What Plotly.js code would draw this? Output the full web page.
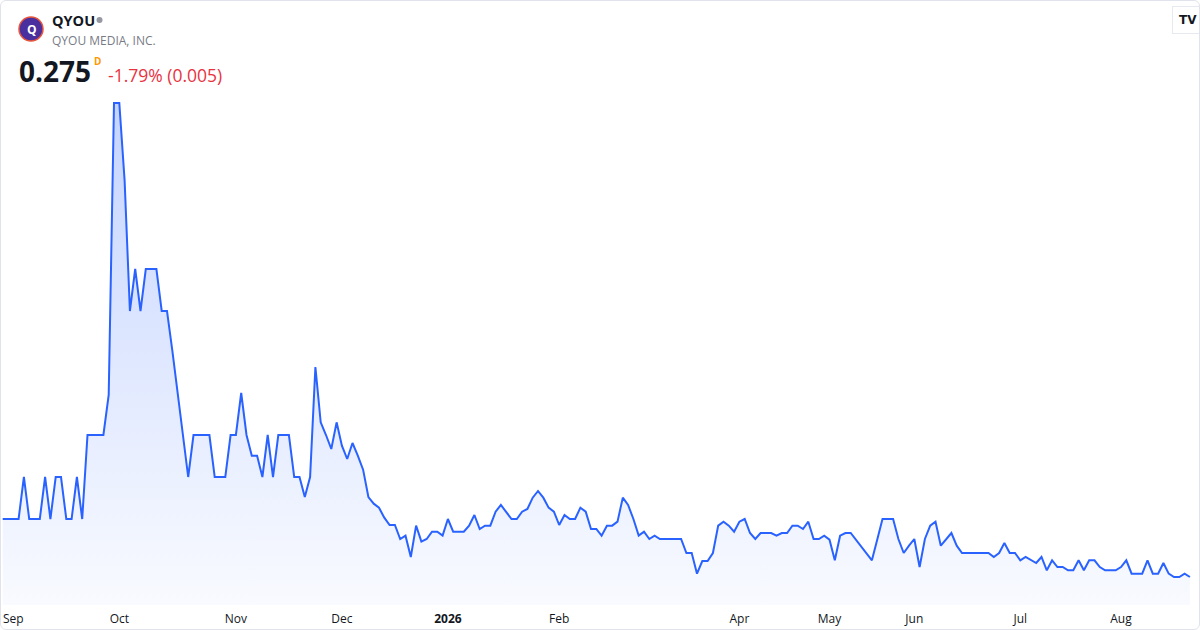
<!DOCTYPE html>
<html>
<head>
<meta charset="utf-8">
<script src="https://cdn.plot.ly/plotly-3.0.1.min.js"></script>
<style>
  html, body { margin: 0; padding: 0; background: #fff; }
  #wrap { position: relative; width: 1200px; height: 630px; }
  #chart { width: 1200px; height: 630px; }
  #frame { position: absolute; left: 0; top: 0; width: 1200px; height: 630px; box-sizing: border-box;
           border: 1px solid #e0e3eb; border-radius: 6px; pointer-events: none; }
</style>
</head>
<body>
<div id="wrap"><div id="chart"></div><div id="frame"></div></div>
<script>
// daily closes, one per trading session (late Aug 2025 -> Aug 2026)
var closes = [
  0.362,0.362,0.362,0.362,0.425,0.362,0.362,0.362,0.425,0.362,0.425,0.425,0.362,0.362,0.425,
  0.362,0.488,0.488,0.488,0.488,0.548,0.986,0.986,0.870,0.674,0.737,0.674,0.737,0.737,0.737,
  0.674,0.674,0.615,0.551,0.487,0.425,0.488,0.488,0.488,0.488,0.425,0.425,0.425,0.488,0.488,
  0.551,0.488,0.457,0.457,0.425,0.488,0.425,0.488,0.488,0.488,0.425,0.425,0.395,0.425,0.590,
  0.507,0.488,0.467,0.507,0.472,0.452,0.476,0.457,0.436,0.395,0.385,0.379,0.364,0.353,0.353,
  0.332,0.337,0.305,0.352,0.328,0.332,0.343,0.343,0.337,0.362,0.343,0.343,0.343,0.352,0.368,
  0.347,0.352,0.352,0.373,0.383,0.373,0.362,0.362,0.373,0.377,0.394,0.404,0.394,0.379,0.373,
  0.353,0.368,0.362,0.362,0.379,0.373,0.347,0.347,0.337,0.352,0.352,0.358,0.394,0.383,0.362,
  0.337,0.343,0.332,0.337,0.332,0.332,0.332,0.332,0.332,0.311,0.311,0.280,0.299,0.299,0.311,
  0.352,0.358,0.352,0.343,0.358,0.362,0.341,0.332,0.341,0.341,0.341,0.337,0.341,0.341,0.352,
  0.352,0.347,0.358,0.332,0.332,0.337,0.331,0.300,0.337,0.341,0.341,0.331,0.320,0.311,0.300,
  0.331,0.362,0.362,0.362,0.332,0.311,0.322,0.332,0.290,0.332,0.352,0.358,0.322,0.332,0.341,
  0.322,0.311,0.311,0.311,0.311,0.311,0.311,0.305,0.311,0.326,0.311,0.311,0.300,0.305,0.300,
  0.296,0.305,0.285,0.300,0.290,0.290,0.285,0.285,0.300,0.285,0.300,0.300,0.290,0.285,0.285,
  0.285,0.290,0.300,0.280,0.280,0.280,0.300,0.280,0.280,0.296,0.280,0.275,0.275,0.280,0.275
];

// first session of each labelled month
var tickIdx = [2, 22, 44, 64, 84, 105, 139, 156, 172, 192, 211];
var tickText = ['Sep', 'Oct', 'Nov', 'Dec', '<b>2026</b>', 'Feb', 'Apr', 'May', 'Jun', 'Jul', 'Aug'];

var symbol = 'QYOU';
var company = 'QYOU MEDIA, INC.';
var lastPrice = '0.275';
var change = '-1.79% (0.005)';

var sessions = closes.map(function (v, i) { return i; });

var W = 1200, H = 630, T = 90, B = 25;
var yLo = 0.233, yHi = 1.0055;
var font = 'Open Sans, Roboto, sans-serif';

// pixel -> paper helpers for the header bits
function px(x) { return x / W; }
function py(y) { return (H - B - y) / (H - T - B); }

function label(x, y, text, size, color, extra) {
  var a = {
    xref: 'paper', yref: 'paper', x: px(x), y: py(y),
    xanchor: 'left', yanchor: 'middle', showarrow: false,
    text: text, font: { family: font, size: size, color: color }
  };
  for (var k in extra) a[k] = extra[k];
  return a;
}

var trace = {
  type: 'scatter',
  mode: 'lines',
  x: sessions,
  y: closes,
  line: { color: '#2962ff', width: 2 },
  fill: 'tozeroy',
  fillgradient: {
    type: 'vertical',
    start: yLo,
    stop: Math.max.apply(null, closes),
    colorscale: [[0, 'rgba(41,98,255,0.03)'], [1, 'rgba(41,98,255,0.27)']]
  },
  hoverinfo: 'skip'
};

var layout = {
  width: W, height: H,
  margin: { l: 0, r: 0, t: T, b: B },
  paper_bgcolor: '#ffffff',
  plot_bgcolor: '#ffffff',
  showlegend: false,
  xaxis: {
    range: [-0.509, 225.906],
    tickmode: 'array', tickvals: tickIdx, ticktext: tickText,
    showgrid: false, zeroline: false, showline: false, ticks: '',
    ticklabelstandoff: 5,
    tickfont: { family: font, size: 12, color: '#131722' }
  },
  yaxis: { range: [yLo, yHi], visible: false, fixedrange: true },
  shapes: [
    { type: 'circle', xref: 'paper', yref: 'paper',
      x0: px(19), x1: px(43), y0: py(41), y1: py(17),
      fillcolor: '#4a2f9e', line: { color: '#e9553b', width: 1.5 } },
    // status dot after the ticker
    { type: 'circle', xref: 'paper', yref: 'paper',
      x0: px(96.5), x1: px(102.5), y0: py(23), y1: py(17),
      fillcolor: '#9598a1', line: { width: 0 } }
  ],
  annotations: [
    label(24.5, 29.5, '<b>Q</b>', 12, '#ffffff'),
    label(50, 20, '<b>' + symbol + '</b>', 14.5, '#131722'),
    label(50, 40, company, 12, '#787b86'),
    label(17, 71, '<b>' + lastPrice + '</b>', 28, '#131722'),
    label(92, 61, '<b>D</b>', 10, '#ff9800'),
    label(106, 75, change, 17.5, '#e8333f'),
    { xref: 'paper', yref: 'paper', x: px(1188), y: py(20), xanchor: 'center', yanchor: 'middle',
      showarrow: false, text: '<b>TV</b>', bgcolor: '#ffffff', bordercolor: '#e6e9ef', borderpad: 6,
      font: { family: 'DejaVu Sans', size: 12, color: '#131722' } }
  ]
};

Plotly.newPlot('chart', [trace], layout, { displayModeBar: false, staticPlot: true });
</script>
</body>
</html>
